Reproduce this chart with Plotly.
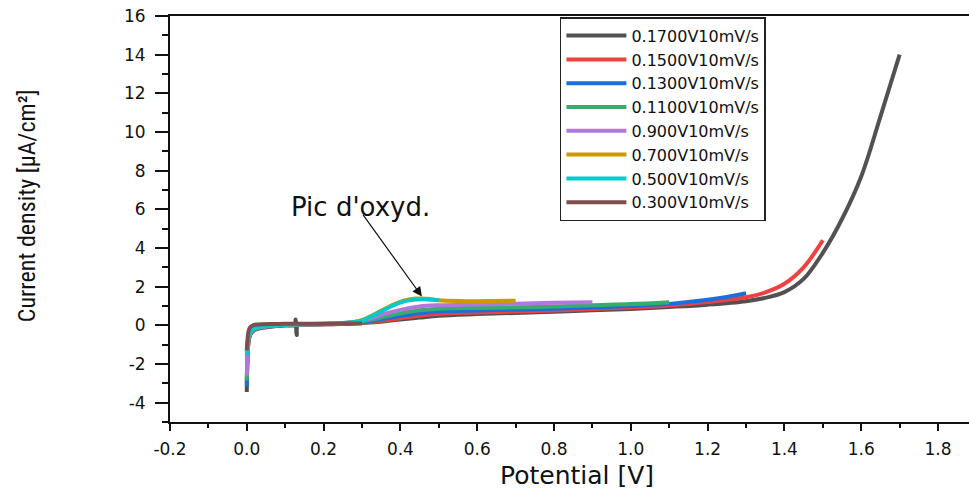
import plotly.graph_objects as go

# Linear sweep voltammograms at 10 mV/s, each swept from 0 V up to its end potential
LABELS = ["0.1700V10mV/s", "0.1500V10mV/s", "0.1300V10mV/s", "0.1100V10mV/s",
          "0.900V10mV/s", "0.700V10mV/s", "0.500V10mV/s", "0.300V10mV/s"]
COLORS = ["#515151", "#F14040", "#1A6FDF", "#37AD6B",
          "#B177DE", "#CC9900", "#00CBCC", "#7D4E4E"]

E_1700 = [0.000, 0.002, 0.005, 0.010, 0.020, 0.035, 0.060, 0.100, 0.125, 0.127, 0.130, 0.133,
          0.160, 0.200, 0.250, 0.280, 0.320, 0.360, 0.400, 0.450, 0.500, 0.600, 0.700, 0.800,
          0.900, 1.000, 1.100, 1.200, 1.300, 1.350, 1.400, 1.450, 1.500, 1.550, 1.600,
          1.650, 1.700]
J_1700 = [-3.45, -1.60, -0.80, -0.45, -0.25, -0.15, -0.07, 0.00, 0.02, 0.30, -0.50, 0.03,
          0.04, 0.05, 0.07, 0.09, 0.14, 0.21, 0.30, 0.40, 0.50, 0.58, 0.64, 0.70,
          0.78, 0.85, 0.95, 1.07, 1.25, 1.42, 1.72, 2.40, 3.75, 5.50, 7.70,
          10.80, 14.00]

E_1500 = [0.000, 0.002, 0.005, 0.010, 0.020, 0.035, 0.060, 0.100, 0.150, 0.200, 0.250, 0.280,
          0.320, 0.360, 0.400, 0.450, 0.500, 0.600, 0.700, 0.800, 0.900, 1.000, 1.100, 1.200,
          1.300, 1.350, 1.400, 1.450, 1.500]
J_1500 = [-3.00, -1.50, -0.75, -0.42, -0.23, -0.13, -0.06, 0.00, 0.03, 0.05, 0.08, 0.11,
          0.17, 0.26, 0.37, 0.50, 0.60, 0.66, 0.71, 0.77, 0.84, 0.92, 1.03, 1.20,
          1.45, 1.70, 2.15, 3.00, 4.40]

E_1300 = [0.000, 0.002, 0.005, 0.010, 0.020, 0.035, 0.060, 0.100, 0.150, 0.200, 0.250, 0.280,
          0.320, 0.360, 0.400, 0.450, 0.500, 0.600, 0.700, 0.800, 0.900, 1.000, 1.100, 1.200,
          1.250, 1.300]
J_1300 = [-3.15, -1.50, -0.72, -0.40, -0.22, -0.12, -0.05, 0.01, 0.04, 0.06, 0.09, 0.13,
          0.22, 0.35, 0.48, 0.63, 0.72, 0.77, 0.81, 0.86, 0.92, 1.00, 1.11, 1.32,
          1.47, 1.66]

E_1100 = [0.000, 0.002, 0.005, 0.010, 0.020, 0.035, 0.060, 0.100, 0.150, 0.200, 0.250, 0.280,
          0.320, 0.360, 0.400, 0.450, 0.500, 0.600, 0.700, 0.800, 0.900, 1.000, 1.100]
J_1100 = [-2.85, -1.45, -0.70, -0.38, -0.20, -0.11, -0.04, 0.02, 0.05, 0.07, 0.10, 0.15,
          0.28, 0.45, 0.62, 0.78, 0.86, 0.90, 0.93, 0.97, 1.04, 1.10, 1.20]

E_900 = [0.000, 0.002, 0.005, 0.010, 0.020, 0.035, 0.060, 0.100, 0.150, 0.200, 0.250, 0.280,
         0.320, 0.360, 0.400, 0.450, 0.500, 0.600, 0.700, 0.800, 0.900]
J_900 = [-2.60, -1.40, -0.68, -0.36, -0.19, -0.10, -0.03, 0.03, 0.05, 0.07, 0.11, 0.17,
         0.35, 0.60, 0.80, 0.98, 1.04, 1.08, 1.12, 1.17, 1.20]

E_700 = [0.000, 0.002, 0.005, 0.010, 0.020, 0.035, 0.060, 0.100, 0.150, 0.200, 0.250, 0.280,
         0.300, 0.320, 0.350, 0.380, 0.410, 0.440, 0.470, 0.500, 0.550, 0.600, 0.650, 0.700]
J_700 = [-1.40, -0.95, -0.55, -0.30, -0.16, -0.08, -0.02, 0.03, 0.06, 0.08, 0.12, 0.18,
         0.27, 0.45, 0.76, 1.06, 1.29, 1.39, 1.37, 1.30, 1.26, 1.25, 1.26, 1.27]

E_500 = [0.000, 0.002, 0.005, 0.010, 0.020, 0.035, 0.060, 0.100, 0.150, 0.200, 0.250, 0.280,
         0.300, 0.320, 0.350, 0.380, 0.410, 0.440, 0.470, 0.500]
J_500 = [-1.55, -1.00, -0.55, -0.30, -0.16, -0.08, -0.02, 0.03, 0.06, 0.08, 0.12, 0.17,
         0.24, 0.41, 0.72, 1.02, 1.24, 1.33, 1.34, 1.30]

E_300 = [0.000, 0.002, 0.004, 0.008, 0.015, 0.025, 0.040, 0.070, 0.100, 0.150, 0.200, 0.250,
         0.300]
J_300 = [-1.30, -0.70, -0.35, -0.12, -0.01, 0.04, 0.06, 0.07, 0.08, 0.08, 0.08, 0.09, 0.09]

X_TICKS = [-0.2, 0.0, 0.2, 0.4, 0.6, 0.8, 1.0, 1.2, 1.4, 1.6, 1.8]
Y_TICKS = [-4, -2, 0, 2, 4, 6, 8, 10, 12, 14, 16]

SERIES = [(E_1700, J_1700), (E_1500, J_1500), (E_1300, J_1300), (E_1100, J_1100),
          (E_900, J_900), (E_700, J_700), (E_500, J_500), (E_300, J_300)]

TEXT_FONT = "DejaVu Sans, Verdana, sans-serif"

fig = go.Figure()
for (e, j), name, color in zip(SERIES, LABELS, COLORS):
    fig.add_trace(go.Scatter(
        x=e, y=j, mode="lines", name=name,
        line=dict(color=color, width=4, shape="spline", smoothing=1.0),
    ))

fig.update_layout(
    width=969, height=489,
    margin=dict(l=170, r=0, t=16, b=67),
    paper_bgcolor="white", plot_bgcolor="white",
    showlegend=True,
    legend=dict(
        x=0.488, y=0.997, xanchor="left", yanchor="top",
        bgcolor="white", bordercolor="#222", borderwidth=1.5,
        font=dict(family=TEXT_FONT, size=16, color="#111"),
        itemwidth=60, tracegroupgap=0,
    ),
    font=dict(family=TEXT_FONT, color="#111"),
)

fig.update_xaxes(
    range=[-0.2, 1.8807], tickvals=X_TICKS, ticktext=[f"{v:.1f}" for v in X_TICKS],
    showgrid=False, zeroline=False,
    showline=True, linecolor="#111", linewidth=2, mirror=True,
    ticks="outside", ticklen=7, tickwidth=2, tickcolor="#111",
    tickfont=dict(family=TEXT_FONT, size=17, color="#111"),
    ticklabelstandoff=4,
    minor=dict(dtick=0.1, tick0=-0.2, ticks="outside", ticklen=4, tickwidth=1.5,
               tickcolor="#111", showgrid=False),
)
fig.update_yaxes(
    range=[-5, 16], tickvals=Y_TICKS, ticktext=[str(v) for v in Y_TICKS],
    showgrid=False, zeroline=False,
    showline=True, linecolor="#111", linewidth=2,
    ticks="outside", ticklen=13, tickwidth=1.5, tickcolor="#111",
    tickfont=dict(family=TEXT_FONT, size=17, color="#111"),
    ticklabelstandoff=6,
    minor=dict(dtick=1, tick0=-5, ticks="outside", ticklen=6, tickwidth=1.5,
               tickcolor="#111", showgrid=False),
)

# Axis titles
fig.add_annotation(
    text="Potential [V]", xref="paper", yref="paper", x=0.509, y=-0.133,
    xanchor="center", yanchor="middle", showarrow=False,
    font=dict(family=TEXT_FONT, size=25, color="#111"),
)
fig.add_annotation(
    text="Current density [µA/cm²]", xref="paper", yref="paper", x=-0.179, y=0.534,
    xanchor="center", yanchor="middle", showarrow=False, textangle=-90,
    font=dict(family="Liberation Sans Narrow, Arial Narrow, Roboto Condensed, sans-serif",
              size=24, color="#111"),
)

# Oxidation peak label and arrow
fig.add_annotation(
    text="Pic d'oxyd.", x=0.295, y=6.1, xref="x", yref="y",
    xanchor="center", yanchor="middle", showarrow=False,
    font=dict(family=TEXT_FONT, size=26, color="#111"),
)
fig.add_annotation(
    text="", x=0.456, y=1.49, ax=0.30, ay=5.79, xref="x", yref="y", axref="x", ayref="y",
    showarrow=True, arrowhead=2, arrowsize=1.6, arrowwidth=1.2, arrowcolor="#111",
)

fig.write_html("out.html")
